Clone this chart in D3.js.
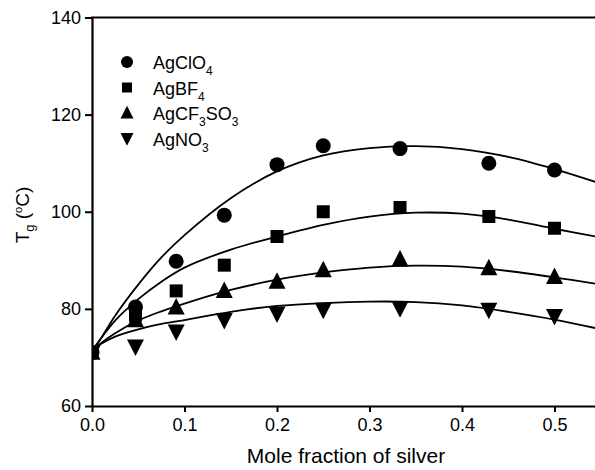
<!DOCTYPE html>
<html>
<head>
<meta charset="utf-8">
<script src="https://cdn.jsdelivr.net/npm/d3@7"></script>
<style>
  html, body { margin: 0; padding: 0; background: #fff; }
  svg { display: block; font-family: "Liberation Sans", Arial, sans-serif; }
</style>
</head>
<body>
<svg id="chart" width="595" height="470"></svg>
<script>
// ---- data ----
const xTickValues = [0, 0.1, 0.2, 0.3, 0.4, 0.5];
const yTickValues = [60, 80, 100, 120, 140];
const molFrac = [0, 0.047, 0.091, 0.143, 0.2, 0.25, 0.333, 0.429, 0.5];
const agClO4 = [71, 80.4, 89.8, 99.3, 109.7, 113.6, 113.0, 110.0, 108.6];
const agBF4 = [71, 78.7, 83.7, 89.0, 94.9, 100.0, 100.9, 99.0, 96.6];
const agCF3SO3 = [71, 77.7, 80.3, 83.7, 85.6, 88.0, 90.2, 88.4, 86.6];
const agNO3 = [71, 72.2, 75.3, 77.7, 79.0, 79.8, 80.1, 79.8, 78.5];
const fitX = [0, 0.005, 0.01, 0.025, 0.05, 0.075, 0.1, 0.15, 0.2, 0.25, 0.3, 0.35, 0.4, 0.45, 0.5, 0.55];
const fitClO4 = [71.2, 72.6, 74.0, 78.6, 85.0, 90.6, 95.2, 102.8, 108.3, 111.6, 113.1, 113.5, 112.9, 111.3, 108.8, 105.8];
const fitBF4 = [71.2, 72.7, 74.0, 77.6, 82.0, 85.6, 88.5, 92.2, 94.9, 97.3, 99.0, 99.8, 99.6, 98.4, 96.5, 94.7];
const fitCF3SO3 = [71.2, 72.2, 73.0, 75.0, 77.6, 79.5, 81.1, 83.9, 86.0, 87.5, 88.5, 88.9, 88.7, 87.8, 86.5, 85.0];
const fitNO3 = [71.2, 72.1, 72.8, 74.3, 75.8, 76.9, 77.7, 79.4, 80.6, 81.2, 81.5, 81.4, 80.7, 79.4, 77.8, 75.8];
const seriesNames = [["AgClO", "4"], ["AgBF", "4"], ["AgCF", "3", "SO", "3"], ["AgNO", "3"]];
const markerTypes = ["circle", "square", "triangleUp", "triangleDown"];

// ---- layout ----
const svg = d3.select("#chart");
const x = d3.scaleLinear().domain([0, 0.55]).range([92, 600.75]);
const y = d3.scaleLinear().domain([60, 140]).range([406, 17.5]);

function markerPath(type, s) {
  const p = d3.path();
  if (type === "circle") { p.arc(0, 0, s / 2, 0, 2 * Math.PI); }
  else if (type === "square") { p.rect(-s / 2, -s / 2, s, s); }
  else if (type === "triangleUp") { p.moveTo(0, -s * 0.55); p.lineTo(s / 2, s * 0.42); p.lineTo(-s / 2, s * 0.42); p.closePath(); }
  else { p.moveTo(0, s * 0.55); p.lineTo(s / 2, -s * 0.42); p.lineTo(-s / 2, -s * 0.42); p.closePath(); }
  return p.toString();
}

svg.append("defs").append("clipPath").attr("id", "plotclip")
  .append("rect").attr("x", 92).attr("y", 17.5).attr("width", 510).attr("height", 388.5);

// fit curves
const fits = [fitClO4, fitBF4, fitCF3SO3, fitNO3];
const line = d3.line().x(d => x(d[0])).y(d => y(d[1])).curve(d3.curveCatmullRom.alpha(0.5));
const gPlot = svg.append("g").attr("clip-path", "url(#plotclip)");
fits.forEach(f => {
  gPlot.append("path").datum(fitX.map((v, i) => [v, f[i]]))
    .attr("d", line).attr("fill", "none").attr("stroke", "#000").attr("stroke-width", 1.8);
});

// data markers
const dataSeries = [agClO4, agBF4, agCF3SO3, agNO3];
const dataSizes = [15, 13, 17, 17];
dataSeries.forEach((s, k) => {
  gPlot.selectAll(null).data(molFrac.map((v, i) => [v, s[i]])).enter()
    .append("path")
    .attr("transform", d => `translate(${x(d[0])},${y(d[1])})`)
    .attr("d", markerPath(markerTypes[k], dataSizes[k]))
    .attr("fill", "#000");
});

// axes
const xAxis = d3.axisBottom(x).tickValues(xTickValues).tickFormat(d3.format(".1f")).tickSizeInner(6).tickSizeOuter(0).tickPadding(6);
const yAxis = d3.axisLeft(y).tickValues(yTickValues).tickFormat(d3.format("d")).tickSizeInner(7).tickSizeOuter(0).tickPadding(4);
const gx = svg.append("g").attr("transform", "translate(0,406)").call(xAxis);
const gy = svg.append("g").attr("transform", "translate(92,0)").call(yAxis);
[gx, gy].forEach(g => {
  g.select(".domain").attr("stroke", "#000").attr("stroke-width", 2.2);
  g.selectAll(".tick line").attr("stroke", "#000").attr("stroke-width", 2);
  g.selectAll(".tick text").attr("fill", "#000").attr("font-size", 18)
    .attr("font-family", "'Liberation Sans', Arial, sans-serif");
});
gx.selectAll(".tick text").attr("dy", "0.71em");
// frame lines
svg.append("line").attr("x1", 91).attr("x2", 601).attr("y1", y(140)).attr("y2", y(140))
  .attr("stroke", "#000").attr("stroke-width", 2.2);
svg.append("line").attr("x1", x(0.55)).attr("x2", x(0.55)).attr("y1", y(140)).attr("y2", y(60))
  .attr("stroke", "#000").attr("stroke-width", 2.2);

// axis titles
svg.append("text").attr("x", 346).attr("y", 463).attr("text-anchor", "middle")
  .attr("font-size", 21).attr("fill", "#000").text("Mole fraction of silver");

const yl = svg.append("text").attr("transform", "translate(29,215) rotate(-90)")
  .attr("text-anchor", "middle").attr("font-size", 19).attr("fill", "#000");
yl.append("tspan").text("T");
yl.append("tspan").attr("font-size", 13).attr("dy", 5).text("g");
yl.append("tspan").attr("dy", -5).text(" (");
yl.append("tspan").attr("font-size", 11).attr("dy", -7).text("o");
yl.append("tspan").attr("dy", 7).text("C)");

// legend
const legendY = [62, 87.5, 113, 138.5];
const legendSizes = [12, 10, 13, 13];
seriesNames.forEach((parts, k) => {
  svg.append("path").attr("transform", `translate(127,${legendY[k]})`)
    .attr("d", markerPath(markerTypes[k], legendSizes[k])).attr("fill", "#000");
  const t = svg.append("text").attr("x", 153).attr("y", legendY[k] + 7)
    .attr("font-size", 18).attr("fill", "#000");
  parts.forEach((p, i) => {
    if (i % 2 === 0) t.append("tspan").attr("dy", i === 0 ? 0 : -6).text(p);
    else t.append("tspan").attr("font-size", 12).attr("dy", 6).text(p);
  });
});
</script>
</body>
</html>
